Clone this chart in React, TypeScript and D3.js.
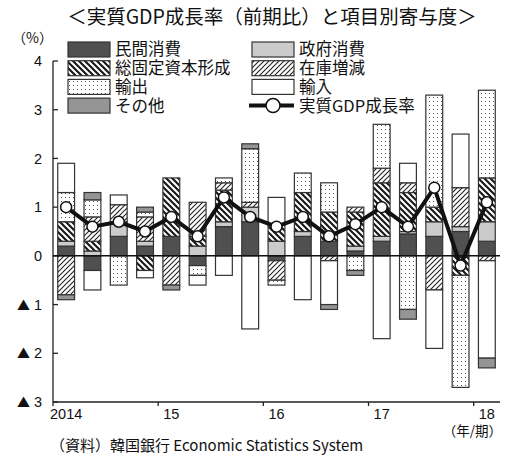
import React from "react";
import * as d3 from "d3";

// quarters 2014Q1 .. 2018Q1
const periods = [
  "2014Q1", "2014Q2", "2014Q3", "2014Q4",
  "2015Q1", "2015Q2", "2015Q3", "2015Q4",
  "2016Q1", "2016Q2", "2016Q3", "2016Q4",
  "2017Q1", "2017Q2", "2017Q3", "2017Q4",
  "2018Q1",
];
const yearLabels = ["2014", "15", "16", "17", "18"];

// contributions (%pt)
const privCons = [0.2, -0.3, 0.4, 0.2, 0.4, -0.2, 0.6, 0.7, -0.1, 0.4, 0.3, 0.1, 0.3, 0.45, 0.4, 0.5, 0.3];
const govCons = [0.1, 0.1, 0.3, 0.1, 0, 0.2, 0.1, 0.3, 0.3, 0.1, 0, 0.1, 0.1, 0.05, 0.3, 0.1, 0.4];
const gfcf = [0.4, 0.2, 0, -0.3, 1.2, 0.2, 0.65, 0, 0.35, 0.8, 0.6, 0.7, 1.1, 0.8, 0.3, -0.4, 0.9];
const inventory = [-0.8, 0.5, 0.35, 0.5, -0.6, 0.7, 0.15, 0.1, -0.4, 0, -0.1, 0.1, 0.3, 0.2, -0.7, 0.8, -0.1];
const exportsC = [0.6, 0.35, -0.6, 0.1, 0, -0.2, 0.1, 1.1, -0.1, 0.4, 0.6, -0.3, 0.9, -1.1, 2.3, -2.3, 1.8];
const importsC = [0.6, -0.4, 0.2, -0.15, 0, -0.2, -0.4, -1.5, 0.55, -0.9, -0.9, 0, -1.7, 0.4, -1.2, 1.1, -2.0];
const other = [-0.1, 0.15, 0, 0.1, -0.1, 0, 0, 0.1, 0, 0, -0.1, -0.1, 0, -0.2, 0, 0, -0.2];
const gdp = [1.0, 0.6, 0.7, 0.5, 0.8, 0.4, 1.2, 0.8, 0.6, 0.8, 0.4, 0.65, 1.0, 0.6, 1.4, -0.2, 1.1];

const yTicks = [4, 3, 2, 1, 0, -1, -2, -3];

const series = [
  { key: "priv", name: "民間消費", values: privCons, fill: "#505050" },
  { key: "gov", name: "政府消費", values: govCons, fill: "#cbcbcb" },
  { key: "gfcf", name: "総固定資本形成", values: gfcf, fill: "url(#hatchBack)" },
  { key: "inv", name: "在庫増減", values: inventory, fill: "url(#hatchFwd)" },
  { key: "exp", name: "輸出", values: exportsC, fill: "url(#dots)" },
  { key: "imp", name: "輸入", values: importsC, fill: "#ffffff" },
  { key: "oth", name: "その他", values: other, fill: "#959595" },
];

const W = 506;
const H = 460;
const cjk = "'Noto Sans CJK JP', 'Noto Sans', sans-serif";
const num = "'Liberation Sans', Arial, sans-serif";

export default function App() {
  const x = d3.scaleBand().domain(periods).range([53, 500]).paddingInner(0.36).paddingOuter(0.18);
  const y = d3.scaleLinear().domain([-3, 4]).range([402, 61]);

  const rows = periods.map((p, i) => {
    const r: any = { period: p };
    series.forEach((s) => (r[s.key] = s.values[i]));
    return r;
  });
  const stacked = d3.stack().keys(series.map((s) => s.key)).offset(d3.stackOffsetDiverging)(rows);

  const line = d3.line<number>()
    .x((_, i) => x(periods[i])! + x.bandwidth() / 2)
    .y((d) => y(d));

  const step = x.step();
  const x0 = x.range()[0];
  const yearTicks = [0, 1, 2, 3, 4].map((k) => x0 + k * 4 * step);

  // legend layout
  const legCols = [68, 252];
  const legRow = (i: number) => 49.5 + i * 18.7;
  const legendItems = [
    { s: series[0], col: 0, row: 0 },
    { s: series[1], col: 1, row: 0 },
    { s: series[2], col: 0, row: 1 },
    { s: series[3], col: 1, row: 1 },
    { s: series[4], col: 0, row: 2 },
    { s: series[5], col: 1, row: 2 },
    { s: series[6], col: 0, row: 3 },
  ];

  return (
    <div style={{ position: "absolute", left: 0, top: 0 }}>
      <svg width={W} height={H} style={{ display: "block", background: "#fff" }}>
        <defs>
          <pattern id="hatchBack" width="6" height="6" patternUnits="userSpaceOnUse">
            <rect width="6" height="6" fill="#fff" />
            <path d="M-1,-1 L7,7 M-1,5 L1,7 M5,-1 L7,1" stroke="#1a1a1a" strokeWidth="2.2" />
          </pattern>
          <pattern id="hatchFwd" width="5" height="5" patternUnits="userSpaceOnUse">
            <rect width="5" height="5" fill="#fff" />
            <path d="M-1,6 L6,-1 M-1,1 L1,-1 M4,6 L6,4" stroke="#222" strokeWidth="1.1" />
          </pattern>
          <pattern id="dots" width="4" height="4" patternUnits="userSpaceOnUse">
            <rect width="4" height="4" fill="#fff" />
            <rect x="1" y="1" width="1" height="1" fill="#555" />
          </pattern>
        </defs>

        {/* title */}
        <text x={272} y={24} textAnchor="middle" fontFamily={cjk} fontSize={19.5} fill="#111">
          ＜実質GDP成長率（前期比）と項目別寄与度＞
        </text>
        <text x={12} y={43} fontFamily={cjk} fontSize={14} fill="#111">（%）</text>

        {/* y axis */}
        <line x1={53} x2={53} y1={y(4)} y2={y(-3)} stroke="#222" strokeWidth={1.3} />
        {yTicks.map((t) => (
          <g key={t}>
            <line x1={53} x2={58} y1={y(t)} y2={y(t)} stroke="#222" strokeWidth={1.3} />
            <text x={42} y={y(t)} dy="0.35em" textAnchor="end" fontFamily={num} fontSize={14.5} fill="#111">
              {t < 0 ? (
                <>
                  <tspan fontFamily={cjk} fontSize={13}>▲</tspan>
                  <tspan dx={4}>{-t}</tspan>
                </>
              ) : `${t}`}
            </text>
          </g>
        ))}

        {/* x axis */}
        <line x1={53} x2={500} y1={y(-3)} y2={y(-3)} stroke="#222" strokeWidth={1.3} />
        {yearTicks.map((tx, i) => (
          <g key={i}>
            <line x1={tx} x2={tx} y1={y(-3)} y2={y(-3) + 4} stroke="#222" strokeWidth={1.3} />
            <text x={x(periods[i * 4])! + x.bandwidth() / 2} y={419} textAnchor="middle" fontFamily={num} fontSize={14.5} fill="#111">
              {yearLabels[i]}
            </text>
          </g>
        ))}
        <text x={502} y={436} textAnchor="end" fontFamily={cjk} fontSize={13.5} fill="#111">（年/期）</text>

        {/* bars */}
        {stacked.map((layer, li) => (
          <g key={layer.key} fill={series[li].fill}>
            {layer.map((d, i) => {
              const top = y(Math.max(d[0], d[1]));
              const h = Math.abs(y(d[0]) - y(d[1]));
              if (h < 0.01) return null;
              return (
                <rect key={i} x={x(periods[i])} y={top} width={x.bandwidth()} height={h}
                  stroke="#333" strokeWidth={1.2} />
              );
            })}
          </g>
        ))}

        {/* zero line */}
        <line x1={53} x2={500} y1={y(0)} y2={y(0)} stroke="#111" strokeWidth={1.5} />

        {/* GDP line */}
        <path d={line(gdp)!} fill="none" stroke="#111" strokeWidth={4} strokeLinejoin="miter" />
        {gdp.map((v, i) => (
          <circle key={i} cx={x(periods[i])! + x.bandwidth() / 2} cy={y(v)} r={5.5}
            fill="#fff" stroke="#111" strokeWidth={1.5} />
        ))}

        {/* legend */}
        {legendItems.map(({ s, col, row }) => (
          <g key={s.key}>
            <rect x={legCols[col]} y={legRow(row) - 7.5} width={42} height={15} fill={s.fill}
              stroke="#333" strokeWidth={1.2} />
            <text x={legCols[col] + 47} y={legRow(row)} dy="0.36em" fontFamily={cjk} fontSize={16.5} fill="#111">
              {s.name}
            </text>
          </g>
        ))}
        <g>
          <line x1={legCols[1] - 3} x2={legCols[1] + 42} y1={legRow(3)} y2={legRow(3)} stroke="#111" strokeWidth={4} />
          <circle cx={legCols[1] + 21} cy={legRow(3)} r={7} fill="#fff" stroke="#111" strokeWidth={1.5} />
          <text x={legCols[1] + 47} y={legRow(3)} dy="0.36em" fontFamily={cjk} fontSize={16.5} fill="#111">
            実質GDP成長率
          </text>
        </g>

        {/* source */}
        <text x={50} y={451} fontFamily={cjk} fontSize={15} fill="#111">
          （資料）韓国銀行 Economic Statistics System
        </text>
      </svg>
    </div>
  );
}
